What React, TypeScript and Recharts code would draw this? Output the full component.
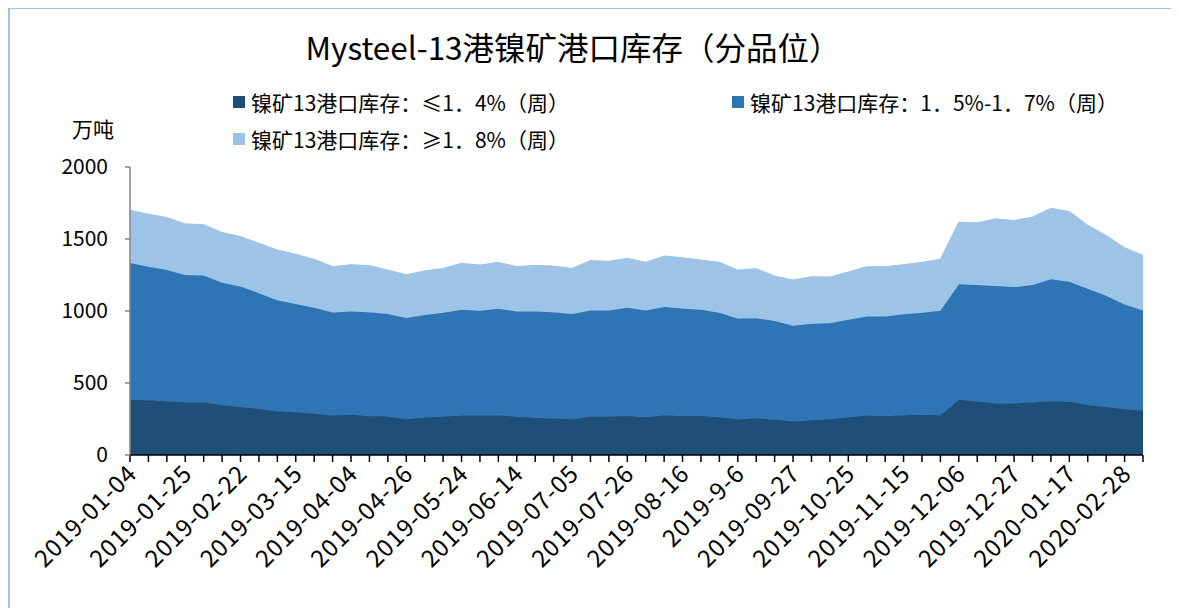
import { AreaChart, Area, XAxis, YAxis } from 'recharts';

// weekly dates (Fridays), labels shown every 3rd point
const dates = [
  '2019-01-04', '2019-01-11', '2019-01-18', '2019-01-25', '2019-02-01', '2019-02-15',
  '2019-02-22', '2019-03-01', '2019-03-08', '2019-03-15', '2019-03-22', '2019-03-29',
  '2019-04-04', '2019-04-12', '2019-04-19', '2019-04-26', '2019-05-10', '2019-05-17',
  '2019-05-24', '2019-05-31', '2019-06-06', '2019-06-14', '2019-06-21', '2019-06-28',
  '2019-07-05', '2019-07-12', '2019-07-19', '2019-07-26', '2019-08-02', '2019-08-09',
  '2019-08-16', '2019-08-23', '2019-08-30', '2019-9-6', '2019-09-12', '2019-09-20',
  '2019-09-27', '2019-10-11', '2019-10-18', '2019-10-25', '2019-11-01', '2019-11-08',
  '2019-11-15', '2019-11-22', '2019-11-29', '2019-12-06', '2019-12-13', '2019-12-20',
  '2019-12-27', '2020-01-03', '2020-01-10', '2020-01-17', '2020-02-07', '2020-02-21',
  '2020-02-28', '2020-03-06',
];

// ≤1.4%
const lowGrade = [
  383, 380, 374, 367, 367, 348, 334, 320, 304, 297, 288, 274,
  279, 270, 267, 248, 260, 267, 274, 276, 276, 265, 258, 253,
  248, 267, 267, 270, 262, 276, 270, 270, 262, 248, 255, 247,
  232, 241, 248, 262, 274, 270, 276, 279, 276, 383, 372, 360,
  358, 367, 374, 369, 348, 334, 318, 309,
];

// 1.5%-1.7%
const midGrade = [
  950, 928, 910, 883, 880, 848, 837, 804, 771, 751, 734, 716,
  718, 722, 713, 704, 713, 720, 734, 725, 739, 732, 739, 739,
  732, 736, 736, 752, 741, 751, 747, 738, 725, 700, 695, 683,
  665, 670, 667, 677, 688, 692, 702, 708, 725, 802, 808, 813,
  808, 813, 846, 834, 807, 772, 727, 694,
];

// ≥1.8%
const highGrade = [
  367, 364, 365, 355, 353, 349, 346, 346, 349, 346, 337, 318,
  325, 323, 304, 300, 305, 309, 323, 318, 323, 311, 320, 320,
  316, 347, 342, 344, 335, 355, 353, 346, 351, 336, 344, 313,
  318, 327, 321, 332, 346, 346, 344, 351, 358, 432, 432, 467,
  462, 472, 494, 488, 441, 418, 395, 384,
];

const yTicks = [0, 500, 1000, 1500, 2000];

const seriesNames = [
  '镍矿13港口库存：≤1．4%（周）',
  '镍矿13港口库存：1．5%-1．7%（周）',
  '镍矿13港口库存：≥1．8%（周）',
];
const colors = ['#1F4E79', '#2E75B6', '#9DC3E6'];

const data = dates.map((d, i) => ({
  date: d,
  low: lowGrade[i],
  mid: midGrade[i],
  high: highGrade[i],
}));

const FONT = '"Noto Sans CJK SC", "Noto Sans", sans-serif';

const DateTick = (props: any) => {
  const { x, y, payload, index } = props;
  if (index % 3 !== 0) return null;
  return (
    <g transform={`translate(${x - 4},${y - 1})`}>
      <text
        transform="rotate(-45)"
        textAnchor="end"
        dy="0.72em"
        fontSize={24}
        letterSpacing={0.9}
        fontFamily={FONT}
        fill="#000"
      >
        {payload.value}
      </text>
    </g>
  );
};

const LegendItem = ({ color, label, left, top }: any) => (
  <div style={{ position: 'absolute', left, top, display: 'flex', alignItems: 'center' }}>
    <div style={{ width: 12, height: 12, background: color, marginRight: 6 }} />
    <span style={{ fontSize: 21, fontFamily: FONT, color: '#000', whiteSpace: 'nowrap' }}>{label}</span>
  </div>
);

export default function App() {
  return (
    <div style={{ position: 'relative', width: 1171, height: 600, fontFamily: FONT }}>
      <div
        style={{
          position: 'absolute', left: 0, top: -1, right: 0, bottom: 0,
          borderLeft: '2px solid #9DC3E6', borderTop: '2px solid #9DC3E6',
        }}
      />
      <div
        style={{
          position: 'absolute', left: 0, width: 1130, top: 18, textAlign: 'center',
          fontSize: 31.5, lineHeight: '40px', color: '#000',
        }}
      >
        Mysteel-13港镍矿港口库存（分品位）
      </div>
      <LegendItem color={colors[0]} label={seriesNames[0]} left={225} top={79} />
      <LegendItem color={colors[1]} label={seriesNames[1]} left={724} top={79} />
      <LegendItem color={colors[2]} label={seriesNames[2]} left={225} top={116} />
      <div style={{ position: 'absolute', left: 64, top: 105, fontSize: 21, color: '#000' }}>万吨</div>

      <AreaChart
        width={1171}
        height={600}
        data={data}
        margin={{ top: 159, right: 36, bottom: 0, left: 0 }}
      >
        <XAxis
          dataKey="date"
          interval={0}
          height={153}
          tick={<DateTick />}
          tickLine={{ stroke: '#000', strokeWidth: 1.5 }}
          tickSize={7}
          axisLine={{ stroke: '#000', strokeWidth: 1.5 }}
        />
        <YAxis
          width={122}
          domain={[0, 2000]}
          ticks={yTicks}
          tickSize={5}
          tickMargin={17}
          axisLine={{ stroke: '#868686', strokeWidth: 1.5 }}
          tickLine={{ stroke: '#868686', strokeWidth: 1.5 }}
          tick={{ fontSize: 21, fill: '#000', fontFamily: FONT }}
        />
        <Area dataKey="low" stackId="a" type="linear" fill={colors[0]} stroke={colors[0]} fillOpacity={1} isAnimationActive={false} />
        <Area dataKey="mid" stackId="a" type="linear" fill={colors[1]} stroke={colors[1]} fillOpacity={1} isAnimationActive={false} />
        <Area dataKey="high" stackId="a" type="linear" fill={colors[2]} stroke={colors[2]} fillOpacity={1} isAnimationActive={false} />
      </AreaChart>
    </div>
  );
}
